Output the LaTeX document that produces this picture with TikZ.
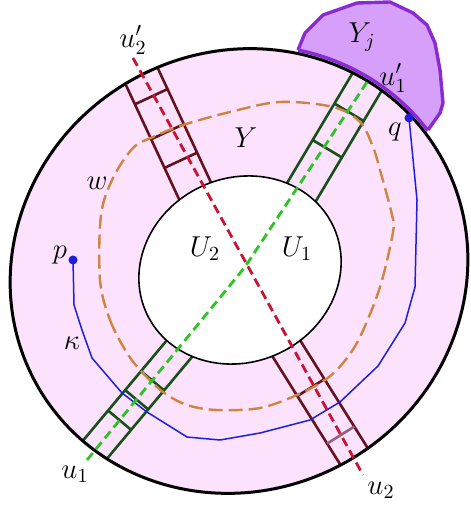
\documentclass[tikz,border=0pt]{standalone}
\usepackage{tikz}
\usetikzlibrary{calc}
\definecolor{annc}{RGB}{252,226,252}
\definecolor{yjfill}{RGB}{214,160,250}
\definecolor{yjline}{RGB}{138,43,210}
\definecolor{wc}{RGB}{205,133,63}
\definecolor{kapc}{RGB}{30,30,225}
\definecolor{grn}{RGB}{45,195,35}
\definecolor{grnd}{RGB}{25,80,25}
\definecolor{redl}{RGB}{200,20,50}
\definecolor{redd}{RGB}{100,18,30}
\definecolor{rungl}{RGB}{150,95,125}

\begin{document}
\begin{tikzpicture}[x=0.5pt,y=-0.5pt,font=\Large,
  rim/.style={line width=1.5pt},
  hole/.style={line width=0.8pt},
  rail/.style={line width=1.3pt},
  wline/.style={wc,line width=1.2pt,dash pattern=on 7pt off 3pt},
  kline/.style={kapc,line width=0.75pt,line join=round},
  gline/.style={grn,line width=1.4pt,dash pattern=on 4.5pt off 2.5pt},
  rline/.style={redl,line width=1.4pt,dash pattern=on 4.5pt off 2.5pt},
  dot/.style={circle,fill=kapc,inner sep=0pt,minimum size=4.5pt},
  yjb/.style={yjline,line width=1.7pt,line join=round}]
\useasboundingbox (0,0) rectangle (470,506);

% --- region Y_j (lower part hidden by the annulus) ---
\fill[yjfill] (298,50) -- (305,33) -- (323,15) -- (357,3) -- (390,2) -- (413,13) -- (427,25)
  -- (435,43) -- (440,70) -- (443,103) -- (440,113) -- (428,130) -- (405,160) -- (300,80) -- cycle;
\draw[yjb] (298,50) -- (305,33) -- (323,15) -- (357,3) -- (390,2) -- (413,13) -- (427,25)
  -- (435,43) -- (440,70) -- (443,103) -- (440,113) -- (428,130);

% --- annulus Y ---
\fill[annc,rotate around={30:(239,271)}] (239,271) ellipse [x radius=232,y radius=219];

% --- ladders U_1, U_2 ---
\begin{scope}
\clip[rotate around={30:(239,271)}] (239,271) ellipse [x radius=232,y radius=219];
% green, upper right
\coordinate (gua) at (376,67);
\coordinate (gub) at (289,213);
\draw[rail,grnd] ($(gua)!8.5pt!90:(gub)$) -- ($(gub)!8.5pt!-90:(gua)$)
  ($(gua)!8.5pt!-90:(gub)$) -- ($(gub)!8.5pt!90:(gua)$);
\foreach \t in {0.31,0.56}
  \draw[rail,grnd] ($(gua)!\t!(gub)!8.5pt!90:(gub)$) -- ($(gua)!\t!(gub)!8.5pt!-90:(gub)$);
% green, lower left
\coordinate (gla) at (205,318);
\coordinate (glb) at (83,464);
\draw[rail,grnd] ($(gla)!7.5pt!90:(glb)$) -- ($(glb)!7.5pt!-90:(gla)$)
  ($(gla)!7.5pt!-90:(glb)$) -- ($(glb)!7.5pt!90:(gla)$);
\foreach \t in {0.43,0.56,0.70}
  \draw[rail,grnd] ($(gla)!\t!(glb)!7.5pt!90:(glb)$) -- ($(gla)!\t!(glb)!7.5pt!-90:(glb)$);
% red, upper left
\coordinate (rua) at (129,49);
\coordinate (rub) at (203,208);
\draw[rail,redd] ($(rua)!9pt!90:(rub)$) -- ($(rub)!9pt!-90:(rua)$)
  ($(rua)!9pt!-90:(rub)$) -- ($(rub)!9pt!90:(rua)$);
\foreach \t in {0.30,0.52,0.70}
  \draw[rail,redd] ($(rua)!\t!(rub)!9pt!90:(rub)$) -- ($(rua)!\t!(rub)!9pt!-90:(rub)$);
% red, lower right
\coordinate (rla) at (271,324);
\coordinate (rlb) at (372,485);
\draw[rail,redd] ($(rla)!8pt!90:(rlb)$) -- ($(rlb)!8pt!-90:(rla)$)
  ($(rla)!8pt!-90:(rlb)$) -- ($(rlb)!8pt!90:(rla)$);
\draw[rail,redd] ($(rla)!0.395!(rlb)!8pt!90:(rlb)$) -- ($(rla)!0.395!(rlb)!8pt!-90:(rlb)$);
\draw[rail,rungl] ($(rla)!0.69!(rlb)!8pt!90:(rlb)$) -- ($(rla)!0.69!(rlb)!8pt!-90:(rlb)$);
\end{scope}

% --- hole and rims ---
\filldraw[fill=white,hole,rotate around={25:(240,270)}] (240,270) ellipse [x radius=103,y radius=92];
\draw[rim,rotate around={30:(239,271)}] (239,271) ellipse [x radius=232,y radius=219];
\begin{scope}
\clip (298,50) -- (305,33) -- (323,15) -- (357,3) -- (390,2) -- (413,13) -- (427,25)
  -- (435,43) -- (440,70) -- (443,103) -- (440,113) -- (428,130) -- (405,160) -- (300,80) -- cycle;
\draw[yjb,rotate around={30:(239,271)}] (239,271) ellipse [x radius=235.5,y radius=222.5];
\end{scope}

% --- curve w ---
\draw[wline] plot[smooth cycle,tension=0.55] coordinates {(100,280) (110,320) (127,353) (142,372)
  (163,392) (187,405) (217,410) (260,408) (297,395) (325,380) (343,363) (360,337) (380,287)
  (393,232) (392,215) (380,170) (373,147) (360,122) (333,107) (280,102) (230,112) (183,125)
  (153,137) (133,148) (113,178) (101,215)};

% --- path kappa from p to q ---
\coordinate (p) at (73,260);
\coordinate (q) at (409,118);
\draw[kline] (p) -- (74,305) -- (82,330) -- (92,358) -- (122,393) -- (147,412) -- (187,437)
  -- (220,440) -- (260,433) -- (310,420) -- (340,402) -- (378,366) -- (405,323) -- (415,287)
  -- (417,200) -- (q);

% --- cores u_1 u_1', u_2 u_2' ---
\coordinate (u2top) at (133,58);
\coordinate (u2bot) at (363,475);
\coordinate (u1bot) at (87,460);
\coordinate (x0) at (245,267);
\coordinate (u1top) at (369,79);
\draw[rline] (u2top) -- (u2bot);
\draw[gline] (u1bot) -- (x0) -- (u1top);

\node[dot] (pd) at (p) {};
\node[dot] (qd) at (q) {};

% --- labels ---
\node (lyj) at (362,37) {$Y_j$};
\node (lu1p) at (393,78) {$u'_1$};
\node (lq) at (395,132) {$q$};
\node (ly) at (246,138) {$Y$};
\node (lw) at (97,183) {$w$};
\node (lp) at (60,255) {$p$};
\node (lU2) at (205,249) {$U_2$};
\node (lU1) at (297,249) {$U_1$};
\node (lk) at (72,343) {$\kappa$};
\node (lu1) at (75,474) {$u_1$};
\node (lu2) at (381,490) {$u_2$};
\node (lu2p) at (133,40) {$u'_2$};
\end{tikzpicture}
\end{document}
